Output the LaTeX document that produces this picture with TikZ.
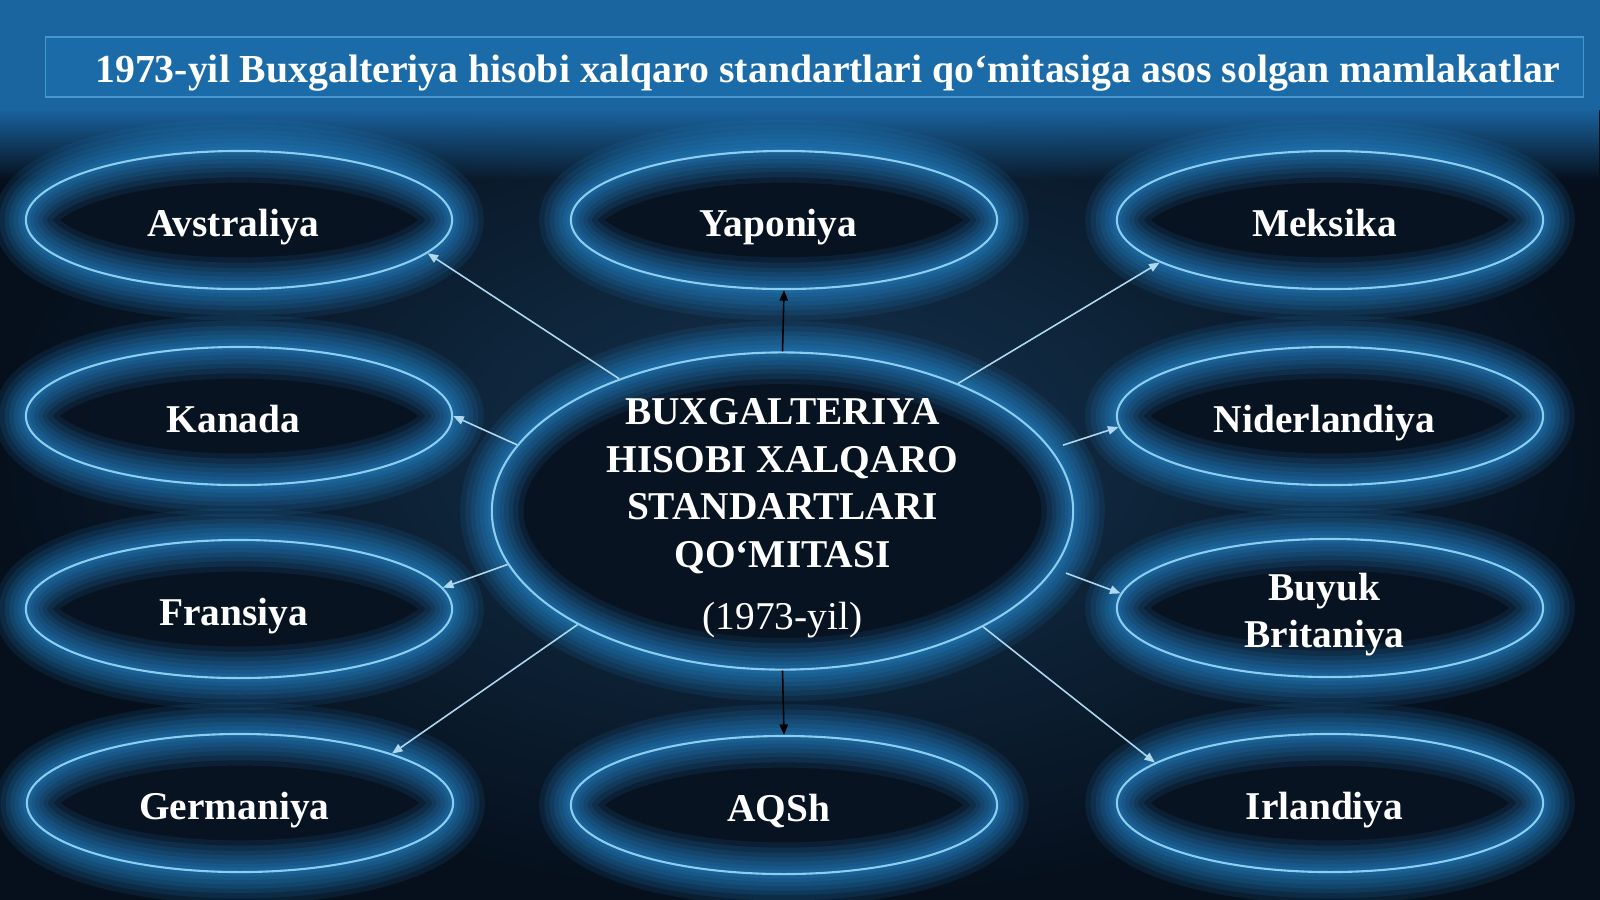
\documentclass[tikz,border=0pt]{standalone}
\usepackage{fontspec}
\setmainfont{Liberation Serif}
\usetikzlibrary{shapes.geometric,arrows.meta,fadings}
\definecolor{myNavy}{RGB}{20,52,80}
\definecolor{myNavyDark}{RGB}{6,16,29}
\definecolor{myTopBlue}{RGB}{26,100,160}
\definecolor{myTitleBlue}{RGB}{26,110,172}
\definecolor{myTitleEdge}{RGB}{70,150,210}
\definecolor{myGlow}{RGB}{36,132,200}
\definecolor{myEdge}{RGB}{140,205,240}
\definecolor{myInk}{RGB}{8,19,33}
\definecolor{myArrow}{RGB}{175,215,238}
\tikzfading[name=bandfade, top color=transparent!0, bottom color=transparent!100]

\begin{document}
\begin{tikzpicture}[x=0.01cm, y=-0.01cm,
    glow/.style={preaction={fill=myInk},
      preaction={draw=myGlow, line width=18pt, opacity=.12},
      preaction={draw=myGlow, line width=15pt, opacity=.14},
      preaction={draw=myGlow, line width=12pt, opacity=.15},
      preaction={draw=myGlow, line width=9.5pt, opacity=.16},
      preaction={draw=myGlow, line width=7pt, opacity=.17},
      preaction={draw=myGlow, line width=4.5pt, opacity=.18},
      preaction={draw=myGlow, line width=2.5pt, opacity=.2}},
    country/.style={ellipse, draw=myEdge, line width=0.6pt, glow,
      minimum width=4.26cm, minimum height=1.38cm, inner sep=0pt},
    hub/.style={ellipse, draw=myEdge, line width=0.6pt, glow,
      minimum width=5.81cm, minimum height=3.17cm, inner sep=0pt},
    hubtext/.style={text=white, align=center, text depth=0pt, inner sep=0pt,
      font=\fontsize{11.2}{13.5}\selectfont\bfseries},
    label/.style={text=white, align=center, text depth=0pt, inner sep=0pt,
      font=\fontsize{11.2}{13.5}\selectfont\bfseries},
    titlebox/.style={rectangle, draw=myTitleEdge, line width=0.5pt,
      fill=myTitleBlue, fill opacity=.7, minimum width=15.37cm,
      minimum height=0.6cm, inner sep=0pt},
    titletext/.style={text=white, inner sep=0pt,
      font=\fontsize{11.3}{13.5}\selectfont\bfseries},
    lightarrow/.style={myArrow, line width=0.45pt, -{Triangle[length=3pt,width=2.4pt]}},
    darkarrow/.style={black, line width=0.45pt, -{Triangle[length=3pt,width=2.4pt]}}]

  % background
  \useasboundingbox (0,0) rectangle (1600,899);
  \shade[inner color=myNavy, outer color=myNavyDark] (0,0) rectangle (1600,899);
  \fill[myTopBlue] (0,0) rectangle (1600,110);
  \fill[myTopBlue, path fading=bandfade] (0,109) rectangle (1600,180);

  % title
  \draw (814.5,67) node[titlebox] (ttl) {};
  \draw (828,82) node[anchor=base, titletext] (ttltxt) {1973-yil Buxgalteriya hisobi xalqaro standartlari qo‘mitasiga asos solgan mamlakatlar};

  % countries
  \draw (239,220) node[country] (avs) {};
  \draw (784,220) node[country] (yap) {};
  \draw (1330,220) node[country] (mek) {};
  \draw (239,416) node[country] (kan) {};
  \draw (1330,416) node[country] (nid) {};
  \draw (239,609) node[country] (fra) {};
  \draw (1330,608) node[country] (bri) {};
  \draw (240,803) node[country] (ger) {};
  \draw (784,805) node[country] (aqs) {};
  \draw (1330,803) node[country] (irl) {};
  \foreach \n/\t in {avs/Avstraliya, yap/Yaponiya, mek/Meksika, kan/Kanada,
      nid/Niderlandiya, fra/Fransiya, bri/{Buyuk\\Britaniya}, ger/Germaniya,
      aqs/AQSh, irl/Irlandiya}
    \node[label, xshift=-0.055cm, yshift=-0.025cm] (\n txt) at (\n) {\t};

  % committee
  \draw (782.5,511) node[hub] (qom) {};
  \draw (782.5,514) node[hubtext] (qomtxt) {BUXGALTERIYA\\HISOBI XALQARO\\STANDARTLARI\\QO‘MITASI\\[4.1pt]\mdseries(1973-yil)};

  \path[lightarrow]
  (qom.141.7) edge (avs.-10.6)
  (qom.166.1) edge (kan.-0.5)
  (qom.191.8) edge (fra.6.7)
  (qom.209.3) edge (ger.18.5)
  (qom.36.2) edge (mek.-166.7)
  (qom.13) edge[shorten <=3.5pt] (nid.-177.6)
  (qom.-12.6) edge[shorten <=3.5pt] (bri.176.2)
  (qom.-30.4) edge (irl.167.4)
  ;
  \path[darkarrow]
  (qom.90) edge (yap.-90)
  (qom.-90) edge (aqs.90)
  ;
\end{tikzpicture}
\end{document}
